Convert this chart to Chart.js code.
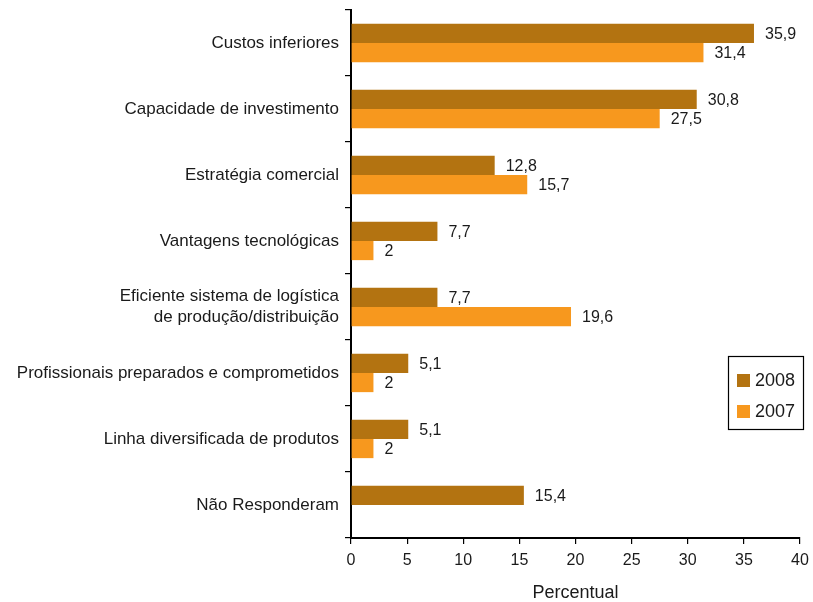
<!DOCTYPE html>
<html>
<head>
<meta charset="utf-8">
<script src="https://cdn.jsdelivr.net/npm/chart.js@4/dist/chart.umd.min.js"></script>
<style>
html,body{margin:0;padding:0;background:#fff;}
#wrap{width:813px;height:602px;}
</style>
</head>
<body>
<div id="wrap"><canvas id="c" width="813" height="602"></canvas></div>
<script>
const categories = [
  "Custos inferiores",
  "Capacidade de investimento",
  "Estratégia comercial",
  "Vantagens tecnológicas",
  ["Eficiente sistema de logística", "de produção/distribuição"],
  "Profissionais preparados e comprometidos",
  "Linha diversificada de produtos",
  "Não Responderam"
];
const values2008 = [35.9, 30.8, 12.8, 7.7, 7.7, 5.1, 5.1, 15.4];
const values2007 = [31.4, 27.5, 15.7, 2, 19.6, 2, 2, null];
const seriesNames = ["2008", "2007"];
const xTicks = [0, 5, 10, 15, 20, 25, 30, 35, 40];
const axisTitle = "Percentual";

const FONT = "'Liberation Sans', Arial, Helvetica, sans-serif";
const fmt = v => String(v).replace('.', ',');

const labelPlugin = {
  id: 'valueLabels',
  afterDatasetsDraw(chart) {
    const ctx = chart.ctx;
    ctx.save();
    ctx.font = "16px " + FONT;
    ctx.fillStyle = "#1a1a1a";
    ctx.textAlign = "left";
    ctx.textBaseline = "middle";
    chart.data.datasets.forEach((ds, i) => {
      const meta = chart.getDatasetMeta(i);
      meta.data.forEach((bar, j) => {
        const v = ds.data[j];
        if (v === null || v === undefined) return;
        ctx.fillText(fmt(v), bar.x + 11, bar.y + 1);
      });
    });
    ctx.restore();
  }
};

const legendPlugin = {
  id: 'boxLegend',
  afterDraw(chart) {
    const ctx = chart.ctx;
    const area = chart.chartArea;
    const left = area.right - 72, top = 356, w = 75, h = 73;
    ctx.save();
    ctx.fillStyle = "#fff";
    ctx.fillRect(left, top, w, h);
    ctx.strokeStyle = "#000";
    ctx.lineWidth = 1.2;
    ctx.strokeRect(left + 0.5, top + 0.5, w, h);
    ctx.font = "18px " + FONT;
    ctx.textBaseline = "middle";
    ctx.textAlign = "left";
    chart.data.datasets.forEach((ds, i) => {
      const cy = top + 24 + i * 31;
      ctx.fillStyle = ds.backgroundColor;
      ctx.fillRect(left + 9, cy - 6, 13, 13);
      ctx.fillStyle = "#1a1a1a";
      ctx.fillText(ds.label, left + 27, cy + 1);
    });
    ctx.restore();
  }
};

new Chart(document.getElementById('c'), {
  type: 'bar',
  data: {
    labels: categories,
    datasets: [
      { label: seriesNames[0], data: values2008, backgroundColor: "#B37311" },
      { label: seriesNames[1], data: values2007, backgroundColor: "#F7981E" }
    ]
  },
  options: {
    indexAxis: 'y',
    responsive: false,
    animation: false,
    devicePixelRatio: 1,
    layout: { padding: { top: 10, right: 13, bottom: 0, left: 0 } },
    datasets: { bar: { categoryPercentage: 0.58, barPercentage: 1.0 } },
    plugins: { legend: { display: false }, tooltip: { enabled: false } },
    scales: {
      x: {
        min: 0, max: 40,
        afterBuildTicks(scale) { scale.ticks = xTicks.map(v => ({ value: v })); },
        afterFit(scale) { scale.height = 64; scale.paddingLeft = 0; scale.paddingRight = 0; },
        grid: { drawOnChartArea: false, drawTicks: true, tickLength: 6, color: "#000", lineWidth: 1.2 },
        border: { display: true, color: "#000", width: 2 },
        ticks: { color: "#1a1a1a", font: { family: FONT, size: 16 }, padding: 7, maxRotation: 0 },
        title: { display: true, text: axisTitle, color: "#1a1a1a", font: { family: FONT, size: 18 }, padding: { top: 0, bottom: -2 } }
      },
      y: {
        afterFit(scale) { scale.width = 351; scale.paddingTop = 0; scale.paddingBottom = 0; },
        grid: { drawOnChartArea: false, drawTicks: true, tickLength: 6, color: "#000", lineWidth: 1.2, offset: true },
        border: { display: true, color: "#000", width: 2 },
        ticks: { color: "#1a1a1a", font: { family: FONT, size: 17, lineHeight: 1.2 }, padding: 6, autoSkip: false }
      }
    }
  },
  plugins: [labelPlugin, legendPlugin]
});
</script>
</body>
</html>
